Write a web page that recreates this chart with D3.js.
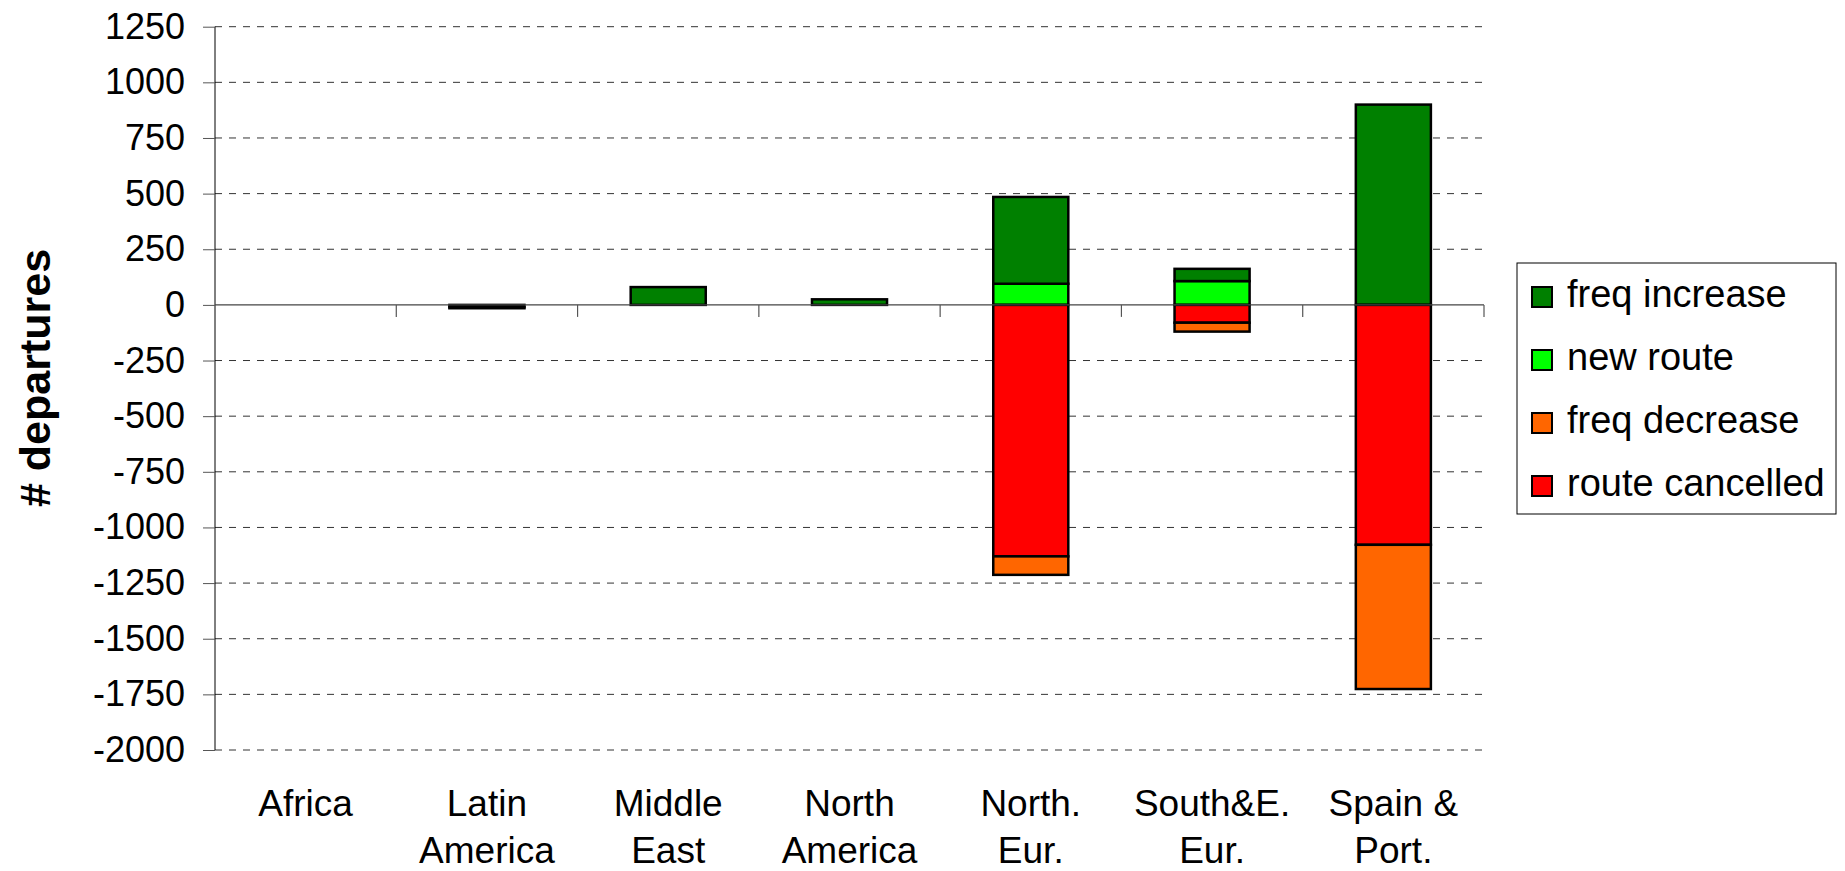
<!DOCTYPE html>
<html>
<head>
<meta charset="utf-8">
<script src="https://cdn.jsdelivr.net/npm/d3@7"></script>
<style>
  body { margin: 0; background: #fff; }
  svg { display: block; font-family: "Liberation Sans", Arial, sans-serif; }
</style>
</head>
<body>
<svg id="canvas" width="1845" height="871"></svg>
<script>
// regions on the x axis
var categories = ['Africa', 'Latin America', 'Middle East', 'North America', 'North. Eur.', 'South&E. Eur.', 'Spain & Port.']
var categoryLines = [['Africa'], ['Latin', 'America'], ['Middle', 'East'], ['North', 'America'], ['North.', 'Eur.'], ['South&E.', 'Eur.'], ['Spain &', 'Port.']]

// series values (# departures)
var freqIncrease = [0, 0, 80, 25, 390, 55, 900]
var newRoute = [0, 0, 0, 0, 95, 107, 0]
var freqDecrease = [0, -5, 0, 0, -83, -40, -648]
var routeCancelled = [0, -10, 0, 0, -1130, -80, -1078]

var yTicks = [1250, 1000, 750, 500, 250, 0, -250, -500, -750, -1000, -1250, -1500, -1750, -2000]

var seriesNames = ['freq increase', 'new route', 'freq decrease', 'route cancelled']
var seriesColors = ['#008000', '#00ff00', '#ff6600', '#ff0000']

var canvas = d3.select('#canvas')

var x = d3.scaleBand().domain(categories).range([215, 1484])
var y = d3.scaleLinear().domain([-2000, 1250]).range([750, 26.7])

// grid lines (dashed), zero line drawn separately
canvas.append('g')
  .selectAll('line')
  .data(yTicks.filter(function(d) { return d !== 0 }))
  .enter()
  .append('line')
  .attr('x1', 215)
  .attr('x2', 1484)
  .attr('y1', function(d) { return y(d) })
  .attr('y2', function(d) { return y(d) })
  .style('stroke', '#333')
  .style('stroke-width', 1)
  .style('stroke-dasharray', '7,7')

// y axis
var yAxis = canvas.append('g')
  .attr('transform', 'translate(215,0)')
  .call(d3.axisLeft(y).tickValues(yTicks).tickSize(12).tickPadding(18).tickFormat(function(d) { return String(d) }))
yAxis.select('.domain').attr('d', 'M0,' + y(1250) + 'V' + y(-2000)).style('stroke', '#000')
yAxis.selectAll('.tick line').style('stroke', '#555')
yAxis.selectAll('text')
  .style('font-size', '36px')
  .style('font-family', '"Liberation Sans", Arial, sans-serif')
  .attr('fill', '#000')

// stacked bars
var rows = categories.map(function(c, i) {
  return {
    cat: c,
    'new route': newRoute[i],
    'freq increase': freqIncrease[i],
    'route cancelled': routeCancelled[i],
    'freq decrease': freqDecrease[i]
  }
})
var stackKeys = ['new route', 'freq increase', 'route cancelled', 'freq decrease']
var stacked = d3.stack().keys(stackKeys).offset(d3.stackOffsetDiverging)(rows)

var barW = x.bandwidth() * 0.414
canvas.append('g')
  .selectAll('g')
  .data(stacked)
  .enter()
  .append('g')
  .attr('fill', function(s) { return seriesColors[seriesNames.indexOf(s.key)] })
  .selectAll('rect')
  .data(function(s) { return s.filter(function(d) { return d[1] - d[0] !== 0 }) })
  .enter()
  .append('rect')
  .attr('x', function(d) { return x(d.data.cat) + (x.bandwidth() - barW) / 2 })
  .attr('width', barW)
  .attr('y', function(d) { return y(Math.max(d[0], d[1])) })
  .attr('height', function(d) { return Math.abs(y(d[0]) - y(d[1])) })
  .style('stroke', '#000')
  .style('stroke-width', 2.5)

// category axis at zero
var y0 = y(0)
canvas.append('line')
  .attr('x1', 215).attr('x2', 1484)
  .attr('y1', y0).attr('y2', y0)
  .style('stroke', '#444')
  .style('stroke-width', 1.2)

var boundaries = categories.map(function(c) { return x(c) }).concat([x.range()[1]])
canvas.append('g')
  .selectAll('line')
  .data(boundaries.slice(1))
  .enter()
  .append('line')
  .attr('x1', function(d) { return d }).attr('x2', function(d) { return d })
  .attr('y1', y0).attr('y2', y0 + 12)
  .style('stroke', '#555')
  .style('stroke-width', 1.2)

// category labels, two lines
var labels = canvas.append('g')
  .selectAll('text')
  .data(categories)
  .enter()
  .append('text')
  .attr('text-anchor', 'middle')
  .style('font-size', '37px')
  .attr('fill', '#000')
labels.each(function(c, i) {
  var cx = x(c) + x.bandwidth() / 2
  d3.select(this).selectAll('tspan')
    .data(categoryLines[i])
    .enter()
    .append('tspan')
    .attr('x', cx)
    .attr('y', function(d, j) { return 816 + j * 47 })
    .text(function(d) { return d })
})

// y axis title
canvas.append('text')
  .attr('transform', 'translate(50,378) rotate(-90)')
  .attr('text-anchor', 'middle')
  .style('font-size', '43px')
  .style('font-weight', 'bold')
  .attr('fill', '#000')
  .text('# departures')

// legend
var legend = canvas.append('g')
legend.append('rect')
  .attr('x', 1517).attr('y', 263)
  .attr('width', 319).attr('height', 251)
  .attr('fill', '#fff')
  .style('stroke', '#000')
  .style('stroke-width', 1)
seriesNames.forEach(function(name, i) {
  var base = 307 + i * 63
  legend.append('rect')
    .attr('x', 1532).attr('y', base - 20)
    .attr('width', 20).attr('height', 20)
    .attr('fill', seriesColors[i])
    .style('stroke', '#000')
    .style('stroke-width', 2)
  legend.append('text')
    .attr('x', 1567).attr('y', base)
    .style('font-size', '38px')
    .attr('fill', '#000')
    .text(name)
})
</script>
</body>
</html>
